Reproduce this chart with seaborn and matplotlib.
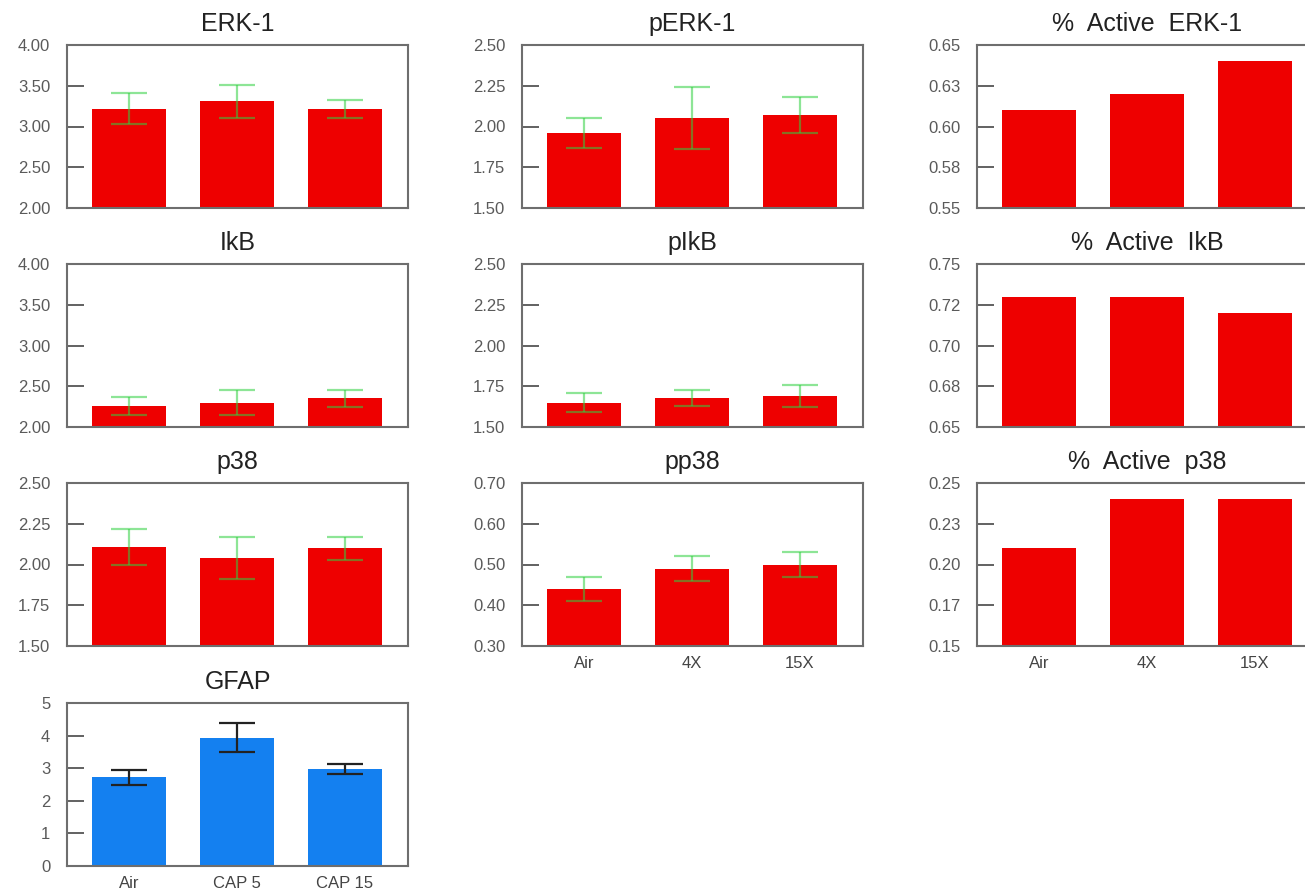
import matplotlib
matplotlib.use("Agg")
import matplotlib.pyplot as plt
import seaborn as sns

# groups
groups = ["Air", "4X", "15X"]
gfap_groups = ["Air", "CAP 5", "CAP 15"]

# western blot densities (mean, sem)
erk1_mean = [3.22, 3.31, 3.22]
erk1_err = [0.19, 0.20, 0.11]
perk1_mean = [1.96, 2.05, 2.07]
perk1_err = [0.09, 0.19, 0.11]
act_erk1 = [0.610, 0.620, 0.640]

ikb_mean = [2.26, 2.30, 2.35]
ikb_err = [0.11, 0.155, 0.11]
pikb_mean = [1.65, 1.68, 1.69]
pikb_err = [0.06, 0.05, 0.07]
act_ikb = [0.730, 0.730, 0.720]

p38_mean = [2.11, 2.04, 2.10]
p38_err = [0.11, 0.13, 0.07]
pp38_mean = [0.44, 0.49, 0.50]
pp38_err = [0.03, 0.03, 0.03]
act_p38 = [0.210, 0.240, 0.240]

gfap_mean = [2.72, 3.94, 2.97]
gfap_err = [0.22, 0.44, 0.15]

# y ticks and their printed labels
ticks_erk = [2.0, 2.5, 3.0, 3.5, 4.0]
ticks_perk = [1.5, 1.75, 2.0, 2.25, 2.5]
ticks_act_erk = [0.55, 0.575, 0.60, 0.625, 0.65]
labels_act_erk = ["0.55", "0.58", "0.60", "0.63", "0.65"]
ticks_act_ikb = [0.65, 0.675, 0.70, 0.725, 0.75]
labels_act_ikb = ["0.65", "0.68", "0.70", "0.72", "0.75"]
ticks_pp38 = [0.3, 0.4, 0.5, 0.6, 0.7]
ticks_act_p38 = [0.15, 0.175, 0.20, 0.225, 0.25]
labels_act_p38 = ["0.15", "0.17", "0.20", "0.23", "0.25"]
ticks_gfap = [0, 1, 2, 3, 4, 5]

RED = "#ee0000"
BLUE = "#1480f0"
GREEN = "#30d040"

W, H = 1305, 892
col_left = [67, 522, 977]
row_top = [45, 264, 483, 703]
AX_W, AX_H = 341, 163

sns.set_style("white")
plt.rcParams["font.family"] = ["Liberation Sans", "DejaVu Sans"]

fig = plt.figure(figsize=(W / 100, H / 100), dpi=100)


def panel(row, col, title, x, means, errs, ticks, labels, color,
          ecolor, ealpha, show_x, fmt="{:.2f}"):
    left = col_left[col] / W
    bottom = 1 - (row_top[row] + AX_H) / H
    ax = fig.add_axes([left, bottom, AX_W / W, AX_H / H])
    sns.barplot(x=x, y=means, color=color, saturation=1, width=0.68,
                errorbar=None, linewidth=0, ax=ax)
    if errs is not None:
        ax.errorbar(range(len(x)), means, yerr=errs, fmt="none",
                    ecolor=ecolor, alpha=ealpha, elinewidth=1.6,
                    capsize=13, capthick=1.6, zorder=5)
    ax.set_ylim(ticks[0], ticks[-1])
    ax.set_xlim(-0.575, 2.585)
    ax.set_yticks(ticks)
    if labels is None:
        labels = [fmt.format(t) for t in ticks]
    ax.set_yticklabels(labels)
    ax.tick_params(axis="y", left=True, direction="in", length=12, width=1.3,
                   color="#555555", labelsize=12, labelcolor="#5a5a5a", pad=12)
    ax.tick_params(axis="x", bottom=False, length=0, labelsize=12,
                   labelcolor="#444444", pad=7, labelbottom=show_x)
    for sp in ax.spines.values():
        sp.set_visible(True)
        sp.set_color("#6e6e6e")
        sp.set_linewidth(1.5)
    ax.set_title(title, fontsize=18, color="#222222", pad=10)
    ax.set_xlabel("")
    ax.set_ylabel("")
    return ax


panel(0, 0, "ERK-1", groups, erk1_mean, erk1_err, ticks_erk, None, RED, GREEN, 0.55, False)
panel(0, 1, "pERK-1", groups, perk1_mean, perk1_err, ticks_perk, None, RED, GREEN, 0.55, False)
panel(0, 2, "%  Active  ERK-1", groups, act_erk1, None, ticks_act_erk, labels_act_erk, RED, None, 1, False)

panel(1, 0, "IkB", groups, ikb_mean, ikb_err, ticks_erk, None, RED, GREEN, 0.55, False)
panel(1, 1, "pIkB", groups, pikb_mean, pikb_err, ticks_perk, None, RED, GREEN, 0.55, False)
panel(1, 2, "%  Active  IkB", groups, act_ikb, None, ticks_act_ikb, labels_act_ikb, RED, None, 1, False)

panel(2, 0, "p38", groups, p38_mean, p38_err, ticks_perk, None, RED, GREEN, 0.55, False)
panel(2, 1, "pp38", groups, pp38_mean, pp38_err, ticks_pp38, None, RED, GREEN, 0.55, True)
panel(2, 2, "%  Active  p38", groups, act_p38, None, ticks_act_p38, labels_act_p38, RED, None, 1, True)

panel(3, 0, "GFAP", gfap_groups, gfap_mean, gfap_err, ticks_gfap, None, BLUE, "#222222", 1, True,
      fmt="{:.0f}")

fig.savefig("out.png", dpi=100)
